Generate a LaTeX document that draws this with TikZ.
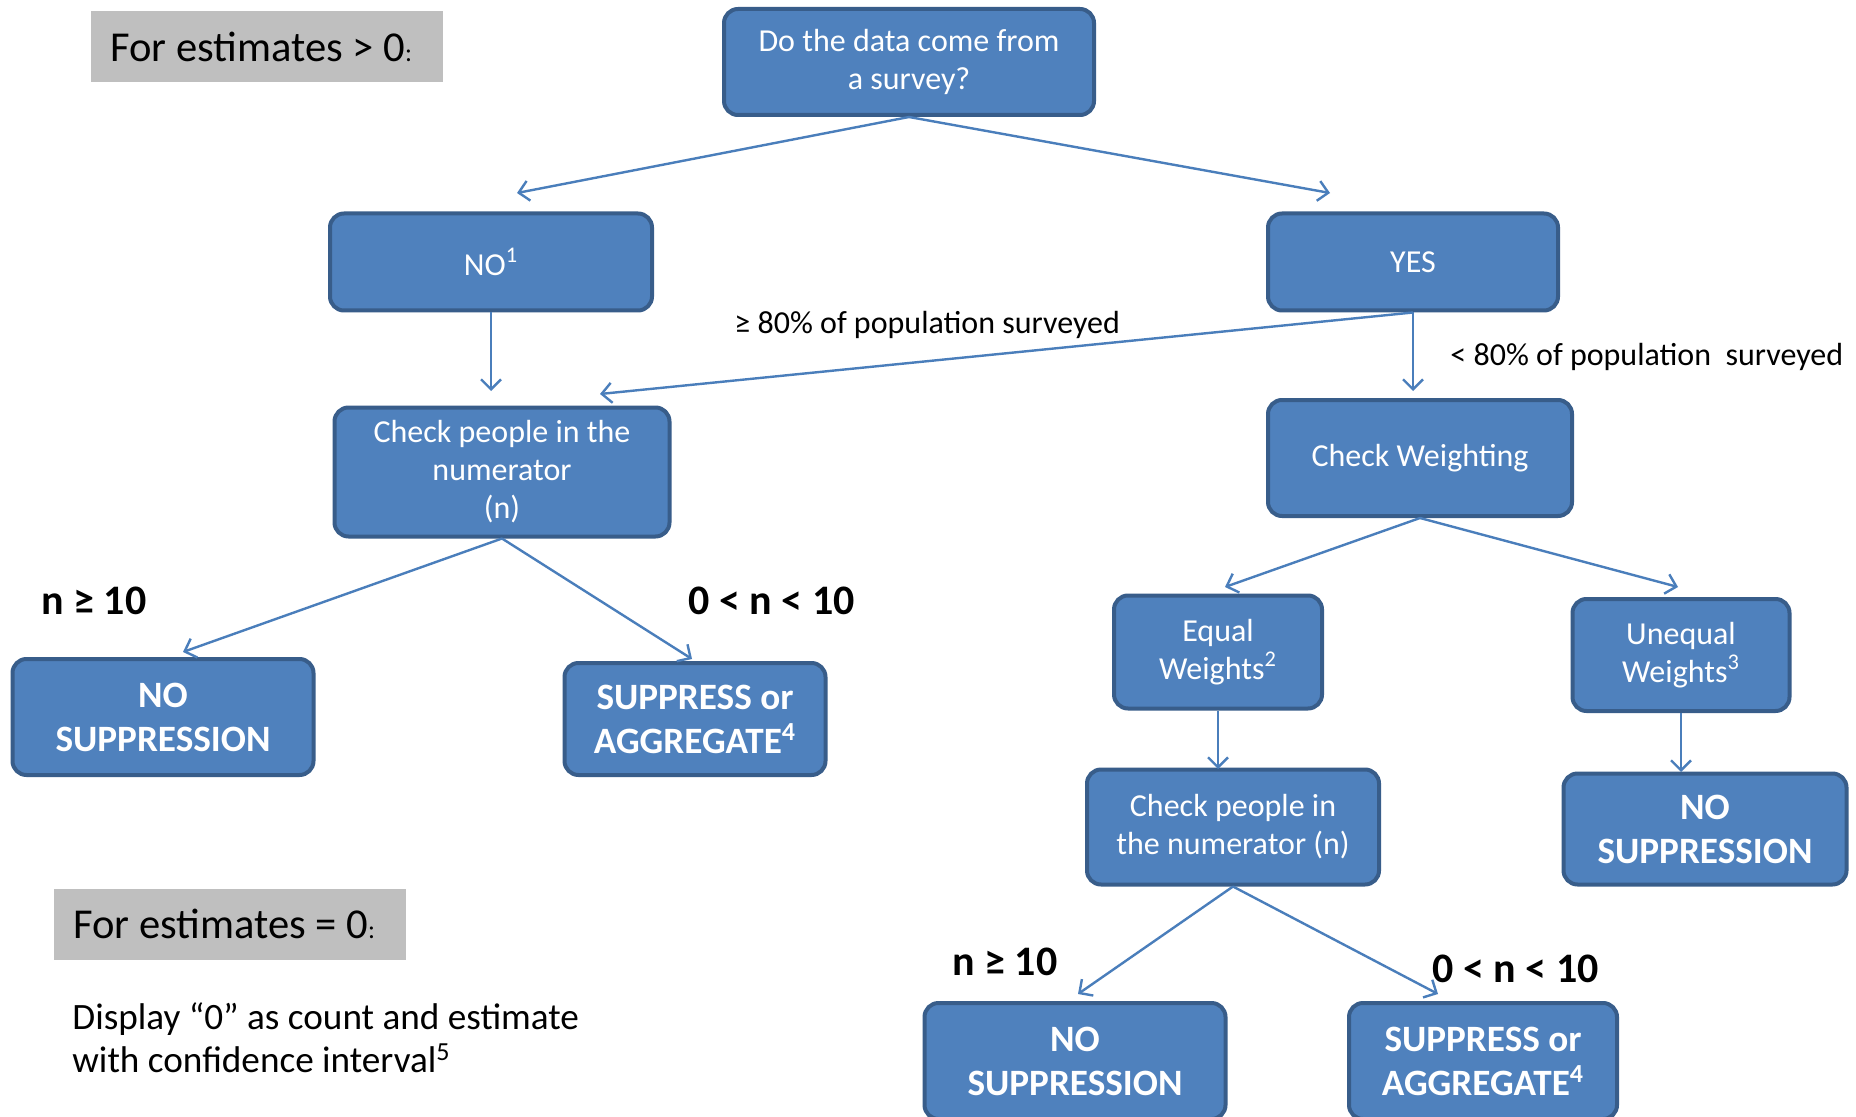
\documentclass[tikz,border=0pt]{standalone}
\usepackage{fontspec}
\setmainfont{Carlito}
\usetikzlibrary{arrows.meta}
\definecolor{boxfill}{HTML}{4F81BD}
\definecolor{boxline}{HTML}{385D8A}
\definecolor{arrowc}{HTML}{4A7EBB}
\definecolor{greyb}{HTML}{BFBFBF}
\begin{document}
\begin{tikzpicture}[x=0.5pt,y=-0.5pt,
 box/.style={draw=boxline, fill=boxfill, line width=2pt, rounded corners=7pt, text=white, align=center, inner sep=0pt, font=\fontsize{16}{19}\selectfont},
 bbox/.style={box, font=\fontsize{18.6}{22}\selectfont\bfseries},
 conn/.style={draw=arrowc, line width=1.2pt, -{Straight Barb[length=5pt,width=10pt]}},
 lab/.style={anchor=west, inner sep=0pt, font=\fontsize{16}{19}\selectfont},
 blab/.style={anchor=west, inner sep=0pt, font=\fontsize{21}{25}\selectfont\bfseries},
 head/.style={anchor=west, inner sep=0pt, font=\fontsize{21.3}{25}\selectfont},
 body/.style={anchor=west, inner sep=0pt, align=left, font=\fontsize{18.6}{21.5}\selectfont},
]
\useasboundingbox (0,0) rectangle (1856,1117);
\clip (0,0) rectangle (1856,1117);
\fill[white] (0,0) rectangle (1856,1117);

% grey header boxes
\fill[greyb] (91,11) rectangle (443,82);
\node[head] (h1) at (110,47) {For estimates > 0{\fontsize{13}{15}\selectfont:}};
\fill[greyb] (54,889) rectangle (406,960);
\node[head] (h2) at (73,924) {For estimates = 0{\fontsize{13}{15}\selectfont:}};
\node[body] (disp) at (72,1038) {Display “0” as count and estimate\\with confidence interval\textsuperscript{5}};

% boxes
\node[box, minimum width=185pt, minimum height=53pt] (q) at (909,62) {Do the data come from\\a survey?};
\node[box, minimum width=161pt, minimum height=48.5pt] (no) at (491,262) {NO\textsuperscript{1}};
\node[box, minimum width=145pt, minimum height=48.5pt] (yes) at (1413,262) {YES};
\node[box, minimum width=167.5pt, minimum height=64.5pt] (chk1) at (502,472) {Check people in the\\numerator\\(n)};
\node[box, minimum width=152pt, minimum height=58pt] (chkw) at (1420,458) {Check Weighting};
\node[bbox, minimum width=150.5pt, minimum height=58pt] (nos1) at (163,717) {NO\\SUPPRESSION};
\node[bbox, minimum width=130.5pt, minimum height=56pt] (sup1) at (695,719) {SUPPRESS or\\AGGREGATE\textsuperscript{4}};
\node[box, minimum width=104pt, minimum height=56.5pt] (eq) at (1218,652) {Equal\\Weights\textsuperscript{2}};
\node[box, minimum width=108.5pt, minimum height=56pt] (uneq) at (1681,655) {Unequal\\Weights\textsuperscript{3}};
\node[box, minimum width=146pt, minimum height=57.5pt] (chk2) at (1233,827) {Check people in\\the numerator (n)};
\node[bbox, minimum width=141.5pt, minimum height=55.5pt] (nos2) at (1705,829) {NO\\SUPPRESSION};
\node[bbox, minimum width=150.5pt, minimum height=58pt] (nos3) at (1075,1061) {NO\\SUPPRESSION};
\node[bbox, minimum width=134pt, minimum height=58pt] (sup2) at (1483,1061) {SUPPRESS or\\AGGREGATE\textsuperscript{4}};

% labels
\node[lab] (l80a) at (734,325) {≥ 80\% of population surveyed};
\node[lab] (l80b) at (1450,357) {< 80\% of population\ \ surveyed};
\node[blab] (n1) at (41,601) {n ≥ 10};
\node[blab] (n2) at (688,601) {0 < n < 10};
\node[blab] (n3) at (952,962) {n ≥ 10};
\node[blab] (n4) at (1432,969) {0 < n < 10};

% arrow tips
\coordinate (t1) at (517,193);
\coordinate (t2) at (1330,193);
\coordinate (t3) at (491,391);
\coordinate (t4) at (600,394);
\coordinate (t5) at (1413,391);
\coordinate (t6) at (183,652);
\coordinate (t7) at (692,659);
\coordinate (t8) at (1225,587);
\coordinate (t9) at (1678,587);
\coordinate (t10) at (1218,769);
\coordinate (t11) at (1681,772);
\coordinate (t12) at (1078,994);
\coordinate (t13) at (1438,994);

\draw[conn] (q.south) -- (t1);
\draw[conn] (q.south) -- (t2);
\draw[conn] (no.south) -- (t3);
\draw[conn] (yes.south) -- (t4);
\draw[conn] (yes.south) -- (t5);
\draw[conn] (chk1.south) -- (t6);
\draw[conn] (chk1.south) -- (t7);
\draw[conn] (chkw.south) -- (t8);
\draw[conn] (chkw.south) -- (t9);
\draw[conn] (eq.south) -- (t10);
\draw[conn] (uneq.south) -- (t11);
\draw[conn] (chk2.south) -- (t12);
\draw[conn] (chk2.south) -- (t13);
\end{tikzpicture}
\end{document}
